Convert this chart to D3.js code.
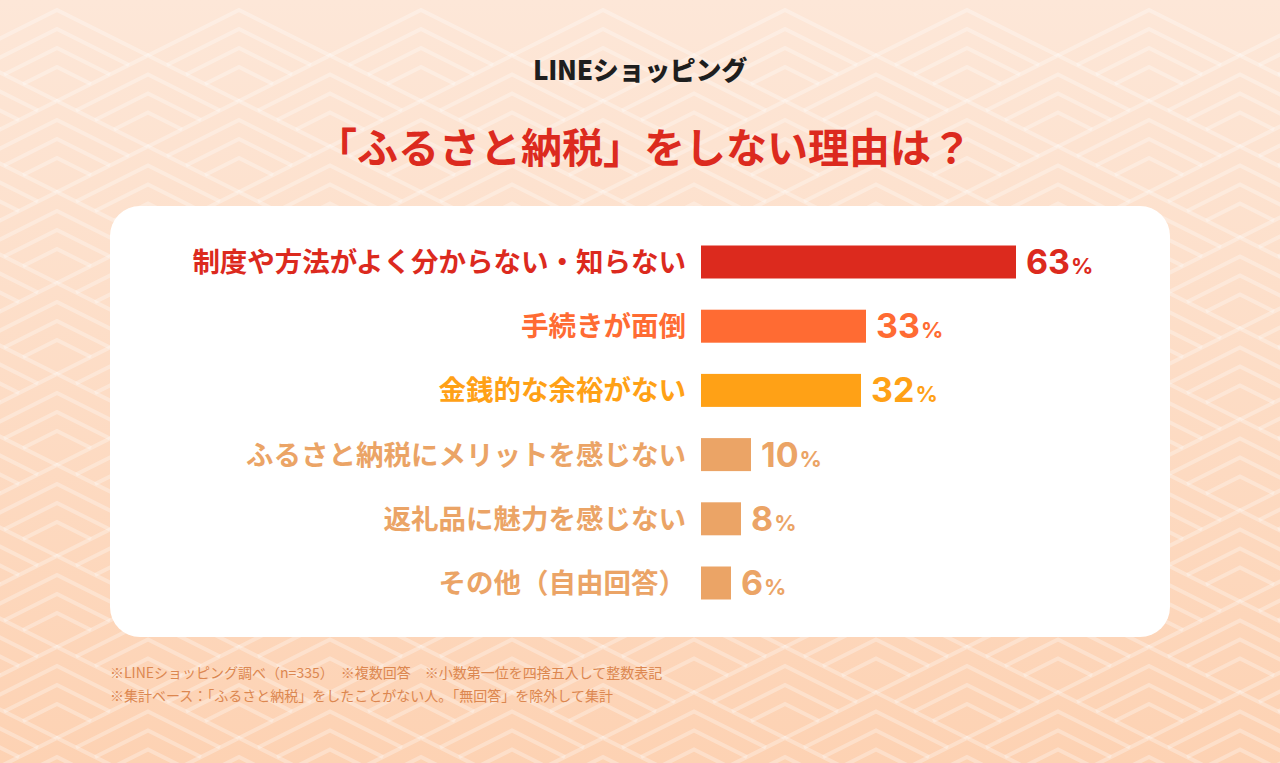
<!DOCTYPE html>
<html>
<head>
<meta charset="utf-8">
<script src="https://cdn.jsdelivr.net/npm/d3@7"></script>
<style>
  html, body { margin: 0; padding: 0; }
  body { width: 1280px; height: 763px; overflow: hidden; }
  svg { display: block; font-family: "Noto Sans CJK JP", "Noto Sans", sans-serif; }
</style>
</head>
<body>
<svg width="1280" height="763"></svg>
<script>
const categories = [
  "制度や方法がよく分からない・知らない",
  "手続きが面倒",
  "金銭的な余裕がない",
  "ふるさと納税にメリットを感じない",
  "返礼品に魅力を感じない",
  "その他（自由回答）"
];
const values = [63, 33, 32, 10, 8, 6];
const barColors = ["#dc2a1e", "#ff6b33", "#ffa116", "#eba466", "#eba466", "#eba466"];
const titleText = "「ふるさと納税」をしない理由は？";
const brandText = "LINEショッピング";
const notes = [
  "※LINEショッピング調べ（n=335）　※複数回答　※小数第一位を四捨五入して整数表記",
  "※集計ベース：「ふるさと納税」をしたことがない人。「無回答」を除外して集計"
];

const svg = d3.select("svg");
const W = 1280, H = 763;

// background gradient
const defs = svg.append("defs");
const grad = defs.append("linearGradient")
  .attr("id", "bg").attr("x1", 0).attr("y1", 0).attr("x2", 0).attr("y2", 1);
grad.append("stop").attr("offset", "0%").attr("stop-color", "#fde7d8");
grad.append("stop").attr("offset", "100%").attr("stop-color", "#fdd2b3");
svg.append("rect").attr("width", W).attr("height", H).attr("fill", "url(#bg)");

// nested chevrons inside a diamond grid
const dw = 91, dh = 45.5;
const cx0 = 57, cy0 = 283 + dh;
const nest = [0, 19, 38, 57];
const bgLines = svg.append("g")
  .attr("fill", "none")
  .attr("stroke", "#ffffff")
  .attr("stroke-opacity", 0.3)
  .attr("stroke-width", 4);
for (let j = -6; j <= 12; j++) {
  for (let i = -2; i <= 16; i++) {
    if ((i + j) % 2 !== 0) continue;
    const cx = cx0 + i * dw;
    const cy = cy0 + j * dh;
    nest.forEach((t) => {
      const ex = dw - (t * dw) / (2 * dh);
      const ey = cy + t / 2;
      bgLines.append("polyline")
        .attr("points", `${cx - ex},${ey} ${cx},${cy - dh + t} ${cx + ex},${ey}`);
    });
  }
}

// header
svg.append("text")
  .attr("x", 640).attr("y", 80)
  .attr("text-anchor", "middle")
  .attr("font-size", 26).attr("font-weight", 900)
  .attr("fill", "#1e1e1e")
  .attr("letter-spacing", -0.3)
  .text(brandText);

svg.append("text")
  .attr("x", 644).attr("y", 163)
  .attr("text-anchor", "middle")
  .attr("font-size", 41).attr("font-weight", 700)
  .attr("fill", "#dc2a1e")
  .text(titleText);

// card
svg.append("rect")
  .attr("x", 110).attr("y", 206)
  .attr("width", 1060).attr("height", 431)
  .attr("rx", 30)
  .attr("fill", "#ffffff");

// scales
const x = d3.scaleLinear().domain([0, 100]).range([701, 1201]);
const y = d3.scalePoint().domain(categories).range([262, 583]);
const barH = 33;

const rows = svg.append("g")
  .selectAll("g")
  .data(categories.map((c, i) => ({ c, v: values[i], col: barColors[i] })))
  .enter()
  .append("g");

rows.append("rect")
  .attr("x", x(0))
  .attr("y", (d) => y(d.c) - barH / 2)
  .attr("width", (d) => x(d.v) - x(0))
  .attr("height", barH)
  .attr("fill", (d) => d.col);

rows.append("text")
  .attr("x", 686)
  .attr("y", (d) => y(d.c) + 10)
  .attr("text-anchor", "end")
  .attr("font-size", 27.5).attr("font-weight", 700)
  .attr("fill", (d) => d.col)
  .text((d) => d.c);

const val = rows.append("text")
  .attr("x", (d) => x(d.v) + 10)
  .attr("y", (d) => y(d.c) + 12)
  .attr("font-family", "Inter, 'Noto Sans', sans-serif")
  .attr("font-weight", 700)
  .attr("fill", (d) => d.col);
val.append("tspan").attr("font-size", 34).text((d) => d.v);
val.append("tspan").attr("font-size", 22).attr("dx", 1).text("%");

// notes
svg.append("g")
  .selectAll("text")
  .data(notes)
  .enter()
  .append("text")
  .attr("x", 110)
  .attr("y", (d, i) => 678 + i * 23)
  .attr("font-size", 14)
  .attr("fill", "#dc8750")
  .text((d) => d);
</script>
</body>
</html>
